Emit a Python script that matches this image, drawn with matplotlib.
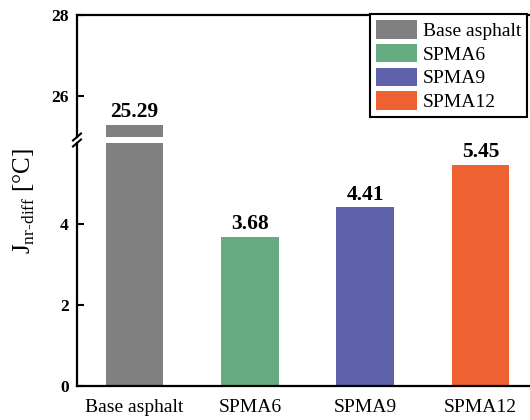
import matplotlib
matplotlib.use('Agg')
import matplotlib.pyplot as plt
from matplotlib.lines import Line2D

categories = ['Base asphalt', 'SPMA6', 'SPMA9', 'SPMA12']
values = [25.29, 3.68, 4.41, 5.45]
colors = ['#808080', '#66AB82', '#5F62AB', '#EE6131']

plt.rcParams['font.family'] = ['Liberation Serif', 'DejaVu Serif']
plt.rcParams['mathtext.fontset'] = 'custom'
plt.rcParams['mathtext.rm'] = 'Liberation Serif'

W, H = 530, 420
fig = plt.figure(figsize=(W / 100, H / 100), dpi=100)


def box(x0, y0, x1, y1):
    # pixel box (top-left origin) -> figure fraction rect
    return [x0 / W, 1 - y1 / H, (x1 - x0) / W, (y1 - y0) / H]


ax_top = fig.add_axes(box(77, 15, 538, 137))
ax_bot = fig.add_axes(box(77, 143, 538, 386))

handles = []
for ax in (ax_top, ax_bot):
    for i, (cat, val, col) in enumerate(zip(categories, values, colors)):
        b = ax.bar(i, val, width=0.5, color=col, label=cat)
        if ax is ax_bot:
            handles.append(b)
    ax.set_xlim(-0.5, 3.5)
    for s in ('left', 'bottom', 'top', 'right'):
        ax.spines[s].set_linewidth(1.6)
    ax.spines['right'].set_visible(False)
    ax.tick_params(axis='y', direction='in', length=5, width=1.5, labelsize=12.5, pad=6)

ax_top.set_ylim(25, 28)
ax_top.set_yticks([26, 28])
ax_top.spines['bottom'].set_visible(False)
ax_top.set_xticks([])

ax_bot.set_ylim(0, 6)
ax_bot.set_yticks([0, 2, 4])
ax_bot.spines['top'].set_visible(False)
ax_bot.set_xticks(range(len(categories)))
ax_bot.set_xticklabels(categories)
ax_bot.tick_params(axis='x', length=0, labelsize=14, pad=9)

for ax in (ax_top, ax_bot):
    for lab in ax.get_yticklabels():
        lab.set_fontweight('bold')

# value labels
for i, val in enumerate(values):
    ax = ax_top if val > 6 else ax_bot
    ax.annotate(f'{val:.2f}', (i, val), xytext=(0, 2), textcoords='offset points',
                ha='center', va='bottom', fontsize=15.5, fontweight='bold')

# break marks on the left spine
for yb in (137, 143):
    fig.add_artist(Line2D([73 / W, 81 / W], [1 - (yb + 3.5) / H, 1 - (yb - 3.5) / H],
                          color='black', lw=1.5, transform=fig.transFigure))

fig.text(24 / W, 1 - 201 / H, r'J$_{\mathrm{nr\text{-}diff}}$ [°C]', rotation=90,
         ha='center', va='center', fontsize=18)

leg = fig.legend(handles=handles, labels=categories, loc='upper right',
                 bbox_to_anchor=(527 / W, 1 - 14 / H), bbox_transform=fig.transFigure,
                 borderaxespad=0, fancybox=False, edgecolor='black', framealpha=1,
                 fontsize=14, handlelength=2.1, handleheight=1.1, labelspacing=0.2,
                 handletextpad=0.3, borderpad=0.3)
leg.get_frame().set_linewidth(1.5)

fig.savefig('out.png', dpi=100)
